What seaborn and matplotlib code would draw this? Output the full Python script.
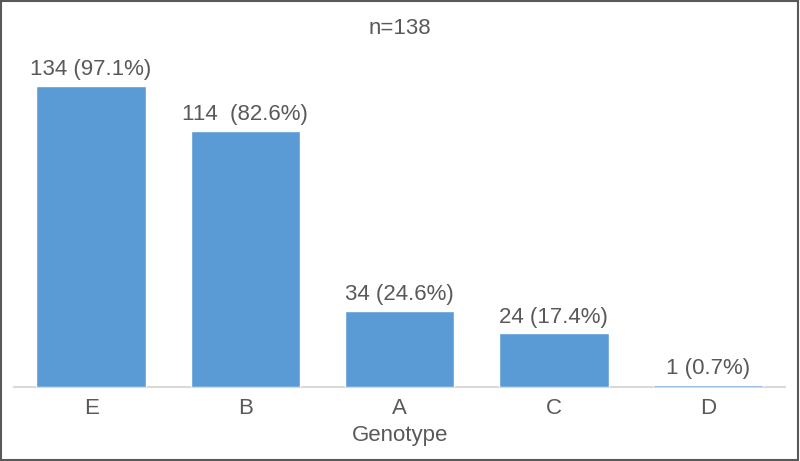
import matplotlib
matplotlib.use("Agg")
import matplotlib.pyplot as plt
import seaborn as sns
import pandas as pd
from matplotlib.patches import Rectangle

genotypes = ["E", "B", "A", "C", "D"]
counts = [134, 114, 34, 24, 1]
labels = ["134 (97.1%)", "114  (82.6%)", "34 (24.6%)", "24 (17.4%)", "1 (0.7%)"]

sns.set_theme(style="white")
plt.rcParams["font.family"] = ["Liberation Sans", "DejaVu Sans"]

text_color = "#595959"
bar_color = "#5B9BD5"

df = pd.DataFrame({"Genotype": genotypes, "count": counts})

fig = plt.figure(figsize=(8.0, 4.61), dpi=100)
ax = fig.add_axes([0.0175, 0.1605, 0.964, 0.731])
sns.barplot(data=df, x="Genotype", y="count", color=bar_color, saturation=1,
            width=0.71, ax=ax, order=genotypes, zorder=3)

ax.set_ylim(0, 150)
ax.set_xlim(-0.5, 4.5)
ax.set_yticks([])
ax.set_ylabel("")
for s in ["left", "right", "top"]:
    ax.spines[s].set_visible(False)
ax.spines["bottom"].set_color("#D9D9D9")
ax.spines["bottom"].set_linewidth(1.5)
ax.spines["bottom"].set_zorder(1)
ax.tick_params(axis="x", length=0, labelsize=16, colors=text_color, pad=8)
ax.set_xlabel("Genotype", fontsize=16, color=text_color, labelpad=4)

for i, (c, lab) in enumerate(zip(counts, labels)):
    ax.annotate(lab, xy=(i, c), xytext=(0, 4), textcoords="offset points",
                ha="center", va="bottom", fontsize=16, color=text_color)

fig.text(0.5, 1 - 28 / 461, "n=138", ha="center", va="center", fontsize=16, color=text_color)

fig.patches.append(Rectangle((0.001, 0.002), 0.997, 0.996, transform=fig.transFigure,
                             fill=False, edgecolor="#595959", linewidth=1.5))

fig.savefig("out.png", dpi=100)
